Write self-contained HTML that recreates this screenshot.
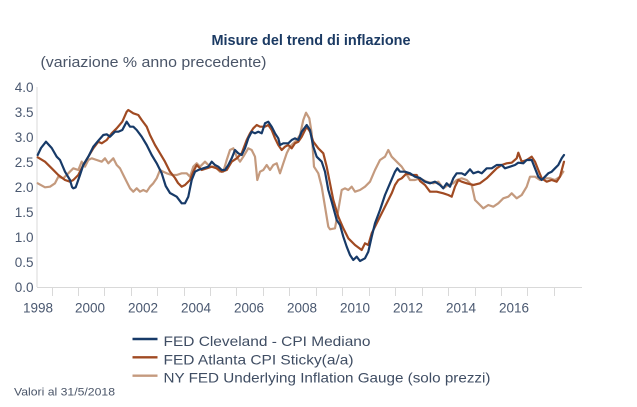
<!DOCTYPE html>
<html><head><meta charset="utf-8"><style>
html,body{margin:0;padding:0;background:#fff;}
svg{display:block;}
text{font-family:"Liberation Sans",sans-serif;}
</style></head><body>
<svg width="637" height="407" viewBox="0 0 637 407" xmlns="http://www.w3.org/2000/svg">
<rect width="637" height="407" fill="#fff"/>
<text x="211.5" y="45" font-size="14.5" font-weight="bold" fill="#1b3a63" textLength="199" lengthAdjust="spacingAndGlyphs">Misure del trend di inflazione</text>
<text x="40.5" y="67" font-size="15" fill="#4a5568" textLength="226" lengthAdjust="spacingAndGlyphs">(variazione % anno precedente)</text>
<g font-size="13.5" fill="#4a5870" text-anchor="end">
<text x="33.5" y="92">4.0</text><text x="33.5" y="117">3.5</text><text x="33.5" y="142">3.0</text>
<text x="33.5" y="167">2.5</text><text x="33.5" y="192">2.0</text><text x="33.5" y="217">1.5</text>
<text x="33.5" y="242">1.0</text><text x="33.5" y="267">0.5</text><text x="33.5" y="292">0.0</text>
</g>
<line x1="37" y1="87" x2="37" y2="287" stroke="#d9d9d9" stroke-width="1"/>
<line x1="37" y1="287.5" x2="582" y2="287.5" stroke="#d9d9d9" stroke-width="1"/>
<g stroke="#d9d9d9" stroke-width="1">
<line x1="52.5" y1="287" x2="52.5" y2="296"/><line x1="78.5" y1="287" x2="78.5" y2="296"/><line x1="104.5" y1="287" x2="104.5" y2="296"/><line x1="131.5" y1="287" x2="131.5" y2="296"/><line x1="157.5" y1="287" x2="157.5" y2="296"/><line x1="184.5" y1="287" x2="184.5" y2="296"/><line x1="210.5" y1="287" x2="210.5" y2="296"/><line x1="236.5" y1="287" x2="236.5" y2="296"/><line x1="263.5" y1="287" x2="263.5" y2="296"/><line x1="289.5" y1="287" x2="289.5" y2="296"/><line x1="316.5" y1="287" x2="316.5" y2="296"/><line x1="342.5" y1="287" x2="342.5" y2="296"/><line x1="369.5" y1="287" x2="369.5" y2="296"/><line x1="395.5" y1="287" x2="395.5" y2="296"/><line x1="422.5" y1="287" x2="422.5" y2="296"/><line x1="448.5" y1="287" x2="448.5" y2="296"/><line x1="475.5" y1="287" x2="475.5" y2="296"/><line x1="501.5" y1="287" x2="501.5" y2="296"/><line x1="527.5" y1="287" x2="527.5" y2="296"/><line x1="554.5" y1="287" x2="554.5" y2="296"/>
</g>
<g font-size="13.5" fill="#4a5870" text-anchor="middle">
<text x="38" y="312.5">1998</text><text x="90" y="312.5">2000</text><text x="143" y="312.5">2002</text>
<text x="196" y="312.5">2004</text><text x="249" y="312.5">2006</text><text x="302" y="312.5">2008</text>
<text x="355" y="312.5">2010</text><text x="408" y="312.5">2012</text><text x="461" y="312.5">2014</text>
<text x="514" y="312.5">2016</text>
</g>
<g fill="none" stroke-width="2.2" stroke-linejoin="round" stroke-linecap="round">
<polyline stroke="#c49a7e" points="37.7,183.3 45,187.3 50,186.7 55,183.3 58.3,176.7 63.3,178.3 68.3,173.3 73.3,168.3 78.3,170 81.7,161.7 85,166.7 88.3,160 91.7,158.3 96.7,160 101.7,161.7 105,158.3 108.3,163.3 113.3,158.3 116.7,165 120,168.3 123.3,175 126.7,181.7 130,188.3 133.3,191.7 136.7,188.3 140,191.7 143.3,190 146.7,191.7 150,186.7 153.3,183.3 156.7,178.3 160,170 163.3,171.7 166.7,173.3 171.7,175 176.7,175 181.7,173.3 186.7,173.3 190,176.7 193.3,166.7 196.7,163.3 200,166.7 205,161.7 210,166.7 215,166.7 220,171.7 223.3,171.7 226.7,160 230,150 233.3,148.3 236.7,156.7 240,161.7 243.3,156.7 248.3,148.3 251.7,150 255,156.7 257.3,180 260,171.7 263.3,170 266.7,165 270,170 273.3,165 276.7,163.3 280,173.3 283.3,163.3 286.7,153.3 290,146.7 293.3,143.3 296.7,140 300,135 303.3,120 306,112.7 309.3,118.3 311.7,133.3 314,166.7 318.3,173.3 321.7,186.7 325,206.7 328.3,226.7 330,229.3 335,228.3 338.3,210 341.7,190 345,188.3 348.3,190 351.7,186.7 355,191.7 360,190 365,186.7 370,181.7 375,170 380,160 385,156.7 388.3,150 391.7,156.7 396.7,161.7 401.7,166.7 405,171.7 410,180 415,180 420,178.3 426.7,181.7 433.3,183.3 438.3,181.7 443.3,188.3 448.3,185 453.3,183.3 456.7,180 461.7,178.3 466.7,180 471.7,185 475,200 480,205 483.3,208.3 488.3,205 493.3,206.7 498.3,203.3 503.3,198.3 508.3,196.7 511.7,193.3 516.7,198.3 521.7,195 526.7,186.7 530,176.7 535,176.7 540,180 545,178.3 550,178.3 555,180 560,176.7 563.3,171.7"/>
<polyline stroke="#a04a22" points="37.7,157.3 45,161.7 51.7,168.3 58.3,175 65,180 70,181.7 73.3,180 78.3,175 83.3,165 88.3,156.7 93.3,148.3 98.3,141.7 101.7,143.3 106.7,140 111.7,133.3 116.7,128.3 122.3,121.7 126.7,111.7 128.3,110 133.3,113.3 138.3,115 141.7,120 146.7,126.7 150,135 155,145 160,153.3 165,161.7 170,171.7 175,178 178,183 181.7,186.7 185,185 190,180 193.3,171.7 196.7,165 201.7,170 206.7,168.3 211.7,166.7 216.7,168.3 221.7,171.7 226.7,170 231.7,161.7 236.7,158.3 241.7,153.3 246.7,140 250,133.3 253.3,128.3 256.7,125 260,126.7 265,126.7 268.3,125 271.7,130 275,138.3 278.3,145 281.7,150 285,146.7 288.3,145 291.7,148.3 295,143.3 298.3,141.7 301.7,136.7 306.7,126.7 310,131.7 313.3,141.7 318.3,148.3 323.3,153.3 326.7,166.7 330,183.3 333.3,200 338.3,216.7 343.3,228.3 348.3,238.3 355,245 361.7,250 365,243.3 368.3,245 371.7,233.3 376.7,223.3 381.7,213.3 386.7,203.3 391.7,193.3 395,185 398.3,180 401.7,178.3 406.7,173.3 411.7,175 416.7,175 420,181 425,185 430,191.7 436.7,191.7 443.3,193.3 448.3,195 451.7,196.7 455,186.7 458.3,180 461.7,181.7 466.7,183.3 473.3,185 480,183.3 486.7,178.3 491.7,173.3 496.7,168.3 501.7,165 506.7,163.3 511.7,162.7 516.7,158.3 518.3,152.7 521.7,161.7 526.7,160 531.7,156.7 535,161.7 538.3,170 541.7,178.3 546.7,181.7 551.7,180 556.7,181.7 560,176.7 564,161.7"/>
<polyline stroke="#173a68" points="37.7,155 41,148 46,141.7 51.7,148 56.7,156.7 60,160 65,171.7 70,180 72,187 73.3,188.3 75.7,187.3 80,175 83.3,165 88.3,156.7 93.3,146.7 98.3,140.7 103.3,135 106.7,134.3 110,136.7 115,131.7 118.3,131.7 122.3,130 126.7,121.7 130,126.7 133.3,126.7 136.7,130 141.7,136.7 146.7,145 151.7,155 156.7,163.3 161.7,173.3 165.7,186 170,193 176.7,196.7 181.7,203.3 185,203.3 188.3,196.7 191.7,180 195,171.7 198.3,170 203.3,168.3 208.3,166.7 211.7,161.7 215,165 218.3,166.7 221.7,170 225,170 228.3,165 231.7,158.3 235,150 238.3,153.3 241.7,155 245,148.3 248.3,138.3 251.7,131.7 255,133.3 258.3,131.7 261.7,133.3 265,123.3 268.3,121.7 271.7,126.7 275,133.3 278.3,138.3 280,145 283.3,143.3 288.3,143.3 291.7,140 295,138.3 298.3,140 301.7,131.7 306.7,125 310,130 313.3,146.7 316.7,156.7 321.7,161.7 325,171.7 328.3,190 331.7,201.7 336.7,220 340,225 343.3,236.7 346.7,246.7 350,255 353.3,260 356.7,256.7 360,261 365,258.3 368.3,251.7 371.7,236.7 375,223.3 380,210 385,195 390,183.3 395,171.7 397.3,168.3 400,171.7 405,171.7 410,173.3 415,176.7 420,178 425,181.7 430,183.3 435,181.7 440,185 443.3,188.3 446.7,183.3 450,186.7 453.3,178.3 456.7,173.3 461.7,173.3 465,175 470,169.3 473.3,173.3 478.3,171.7 481.7,173.3 486.7,168.3 491.7,168.3 496.7,165 501.7,165 505,168.3 510,166.7 515,165 518.3,162.7 523.3,163.3 526.7,160 531.7,160 535,168.3 538.3,176.7 541.7,180 545,176.7 548.3,173.3 551.7,171.7 555,168.3 558.3,165 561.7,158.3 564,155"/>
</g>
<g stroke-width="2.4">
<line x1="132.5" y1="339" x2="157.5" y2="339" stroke="#173a68"/>
<line x1="132.5" y1="357.3" x2="157.5" y2="357.3" stroke="#a04a22"/>
<line x1="132.5" y1="375.7" x2="157.5" y2="375.7" stroke="#c49a7e"/>
</g>
<g font-size="14" fill="#3f4d63">
<text x="163.5" y="346" textLength="207" lengthAdjust="spacingAndGlyphs">FED Cleveland - CPI Mediano</text>
<text x="163.5" y="364.3" textLength="190" lengthAdjust="spacingAndGlyphs">FED Atlanta CPI Sticky(a/a)</text>
<text x="163.5" y="382.6" textLength="327" lengthAdjust="spacingAndGlyphs">NY FED Underlying Inflation Gauge (solo prezzi)</text>
</g>
<text x="14" y="395.5" font-size="11" fill="#4a5568" textLength="101" lengthAdjust="spacingAndGlyphs">Valori al 31/5/2018</text>
</svg>
</body></html>
